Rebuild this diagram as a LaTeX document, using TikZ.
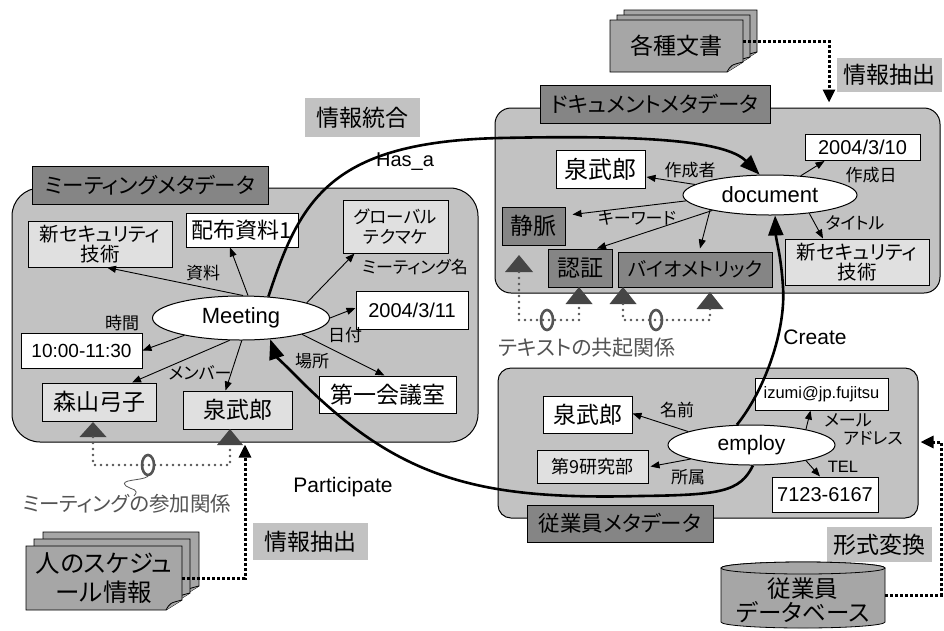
\documentclass[tikz,border=0pt]{standalone}
\usepackage{fontspec}
\setmainfont{Liberation Sans}
\newfontfamily\cjk[RawFeature=+palt]{Noto Sans CJK JP}
\usetikzlibrary{arrows.meta,shapes.geometric,calc}
\definecolor{contfill}{gray}{0.76}
\definecolor{tabfill}{gray}{0.52}
\definecolor{lightfill}{gray}{0.88}
\definecolor{docfill}{gray}{0.65}
\definecolor{markgray}{gray}{0.27}
\definecolor{notegray}{gray}{0.33}
\tikzset{
  cont/.style={draw=black, line width=1pt, fill=contfill},
  jf/.style args={#1/#2}{font={\cjk\fontsize{#1pt}{#2pt}\selectfont}},
  lf/.style={font={\fontsize{#1pt}{#1pt}\selectfont}},
  tabbox/.style={draw=black, line width=0.8pt, fill=tabfill, inner sep=0pt, jf=21.5/25},
  wbox/.style={draw=black, line width=1pt, fill=white, inner sep=0pt, align=center},
  lbox/.style={wbox, fill=lightfill},
  dbox/.style={wbox, fill=tabfill},
  lbl/.style={inner sep=0pt, jf=17/19},
  ell/.style={ellipse, draw=black, line width=1pt, fill=white, inner sep=0pt},
  sarr/.style={-{Triangle[length=9pt,width=7pt]}, line width=0.9pt},
  barr/.style={-{Triangle[length=20pt,width=15pt]}, line width=2.6pt},
  extr/.style={line width=3pt, dash pattern=on 3pt off 2pt, -{Triangle[length=13pt,width=12pt]}},
  note/.style={fill=contfill, inner sep=0pt, jf=23/25},
  cooc/.style={draw=notegray, line width=2.6pt, line cap=round, dash pattern=on 0pt off 6pt},
  ring/.style={ellipse, draw=notegray, line width=2.6pt, minimum width=12pt, minimum height=20pt, inner sep=0pt},
  docpage/.style={draw=black, line width=0.8pt, fill=docfill}
}
\newcommand\docpage[4]{%
  \draw[docpage] (#1,#2) -- (#3,#2) -- (#3,#4-10) -- (#3-16,#4) -- (#1,#4) -- cycle;
  \draw[docpage] (#3-16,#4) .. controls (#3-12,#4-7) .. (#3,#4-10);}
\begin{document}
\begin{tikzpicture}[x=1pt,y=-1pt]
\useasboundingbox[fill=white] (0,0) rectangle (944,630);

% containers
\node[cont, rounded corners=28pt, minimum width=466pt, minimum height=254pt] (mcont) at (245,315) {};
\node[cont, rounded corners=16pt, minimum width=445pt, minimum height=185pt] (dcont) at (717.5,200.5) {};
\node[cont, rounded corners=13pt, minimum width=420pt, minimum height=150pt] (econt) at (708,443) {};

% tabs
\node[tabbox, minimum width=236pt, minimum height=38pt] (mtab) at (150,185) {ミーティングメタデータ};
\node[tabbox, minimum width=230pt, minimum height=38pt] (dtab) at (655,104) {ドキュメントメタデータ};
\node[tabbox, minimum width=186pt, minimum height=37pt] (etab) at (620,523.5) {従業員メタデータ};

% meeting metadata
\node[lbox, jf=19.5/20, minimum width=144pt, minimum height=46pt] (msec) at (100,244) {新セキュリティ\\技術};
\node[wbox, jf=22/24, minimum width=112pt, minimum height=34pt] (mhaifu) at (242,230) {配布資料1};
\node[lbox, jf=17.5/20, minimum width=105pt, minimum height=53pt] (mglob) at (395.5,226.5) {グローバル\\テクマケ};
\node[wbox, lf=20, minimum width=112pt, minimum height=38pt] (mdate) at (412,310) {2004/3/11};
\node[wbox, lf=19, minimum width=121pt, minimum height=35pt] (mtime) at (81.5,350.5) {10:00-11:30};
\node[lbox, jf=23/25, minimum width=114pt, minimum height=38pt] (mmori) at (99,402) {森山弓子};
\node[lbox, jf=23/25, minimum width=109pt, minimum height=38pt] (mizumi) at (237.5,410) {泉武郎};
\node[wbox, jf=23/25, minimum width=137pt, minimum height=37pt] (mroom) at (387.5,394.5) {第一会議室};
\node[ell, lf=22, minimum width=177pt, minimum height=44pt] (meeting) at (241,318) {Meeting};

\node[lbl] (lshiryo) at (203,273) {資料};
\node[lbl] (ljikan) at (122,323) {時間};
\node[lbl] (lmember) at (200,373) {メンバー};
\node[lbl] (lbasho) at (312,361) {場所};
\node[lbl] (lhiduke) at (345,335) {日付};
\node[lbl] (lmname) at (415,267) {ミーティング名};

\draw[sarr] ($(meeting.north)+(2,0)$) -- ($(msec.south)+(7,0)$);
\draw[sarr] ($(meeting.north)+(7,0)$) -- ($(mhaifu.south)+(-12,0)$);
\draw[sarr] (meeting.13) -- ($(mglob.south west)+(12,0)$);
\draw[sarr] (meeting.east) -- ($(mdate.west)+(0,-2)$);
\draw[sarr] (meeting.-15) -- ($(mroom.north)+(-3,0)$);
\draw[sarr] (meeting.-163) -- (mtime.east);
\draw[sarr] (meeting.-117) -- ($(mmori.north)+(33,0)$);
\draw[sarr] (meeting.-88) -- ($(mizumi.north)+(-12,0)$);

% document metadata
\node[wbox, lf=20, minimum width=115pt, minimum height=26pt] (ddate) at (862.5,147.5) {2004/3/10};
\node[wbox, jf=24/26, minimum width=89pt, minimum height=38pt] (dizumi) at (600.5,169) {泉武郎};
\node[dbox, jf=23/25, minimum width=63pt, minimum height=38pt] (dvein) at (533.5,226) {静脈};
\node[dbox, jf=23/25, minimum width=64pt, minimum height=38pt] (dauth) at (580,268) {認証};
\node[dbox, jf=19.5/23, minimum width=154pt, minimum height=35pt] (dbio) at (695,269.5) {バイオメトリック};
\node[lbox, jf=19.5/20, minimum width=144pt, minimum height=46pt] (dsec) at (857,262) {新セキュリティ\\技術};
\node[ell, lf=22, minimum width=174pt, minimum height=40pt] (doc) at (770,195) {document};

\node[lbl] (lsakusei) at (690,170) {作成者};
\node[lbl] (lsakuseibi) at (871,175) {作成日};
\node[lbl] (lkeyword) at (637,218) {キーワード};
\node[lbl] (ltitle) at (855,223) {タイトル};

\draw[sarr] (doc.32) -- ($(ddate.south west)+(20,0)$);
\draw[sarr] (doc.172) -- ($(dizumi.east)+(1,8)$);
\draw[sarr] (doc.184) -- ($(dvein.north east)+(7,8)$);
\draw[sarr] (doc.195) -- ($(dauth.north)+(17,0)$);
\draw[sarr] (doc.-166) -- ($(dbio.north)+(5,-3)$);
\draw[sarr] (doc.-25) -- ($(dsec.north)+(-34,0)$);

% employee metadata
\node[wbox, lf=16.5, minimum width=133pt, minimum height=32pt] (email) at (821.5,394) {izumi@jp.fujitsu};
\node[wbox, jf=23/25, minimum width=89pt, minimum height=37pt] (eizumi) at (587.5,414.5) {泉武郎};
\node[lbox, jf=18/20, minimum width=111pt, minimum height=33pt] (edept) at (592.5,466.5) {第9研究部};
\node[wbox, lf=20, minimum width=106pt, minimum height=35pt] (etel) at (825,494.5) {7123-6167};
\node[ell, lf=21, minimum width=167pt, minimum height=40pt] (employ) at (751.5,445) {employ};

\node[lbl] (lnamae) at (677,410) {名前};
\node[lbl] (lshozoku) at (688,477) {所属};
\node[inner sep=0pt, lf=16.5] (ltel) at (843,467) {TEL};
\node[lbl] (lmail1) at (848,420) {メール};
\node[lbl] (lmail2) at (873,438) {アドレス};

\draw[sarr] (employ.16) -- ($(email.south)+(-11,0)$);
\draw[sarr] (employ.168) -- ($(eizumi.east)+(0,-1)$);
\draw[sarr] (employ.-167) -- ($(edept.east)+(2,0)$);
\draw[sarr] (employ.-16) -- ($(etel.north)+(-5,0)$);

% notes
\node[note, minimum width=115pt, minimum height=39pt] (ntougou) at (362.5,117.5) {情報統合};
\node[note, minimum width=105pt, minimum height=34pt] (nchushutsu1) at (889.5,75) {情報抽出};
\node[note, minimum width=115pt, minimum height=37pt] (nchushutsu2) at (310.5,541.5) {情報抽出};
\node[note, minimum width=105pt, minimum height=35pt] (nhenkan) at (879.5,544.5) {形式変換};

% document stacks
\docpage{624}{10}{757}{62}
\docpage{617}{15}{750}{67}
\docpage{610}{20}{743}{72}
\node[jf=23/25, minimum width=133pt, minimum height=52pt, inner sep=0pt] (docs) at (676.5,46) {各種文書};

\docpage{43}{532}{199}{596}
\docpage{34}{539}{190}{603}
\docpage{26}{546}{182}{610}
\node[jf=24.5/29, align=center, minimum width=156pt, minimum height=64pt, inner sep=0pt] (sched) at (104,578) {人のスケジュ\\ール情報};

% database cylinder
\draw[docpage] (721,568) -- (721,622) arc[start angle=180, end angle=360, x radius=82pt, y radius=6pt]
  -- (885,568) arc[start angle=0, end angle=180, x radius=82pt, y radius=6pt] -- cycle;
\draw[docpage] (803,568) ellipse [x radius=82pt, y radius=6pt];
\node[jf=23.5/24, align=center, minimum width=164pt, minimum height=60pt, inner sep=0pt] (db) at (803,600) {従業員\\データベース};

% extraction arrows
\draw[extr] ($(docs.east)+(0,-5)$) -| ($(dcont.north)+(111.5,-5)$);
\draw[extr] (sched.east) -| ($(mcont.south)+(0,2)$);
\draw[extr] ($(db.east)+(0,-5)$) -- ++(56,0) |- ($(econt.east)+(2,-1)$);

% co-occurrence (meeting)
\coordinate (ma) at (93,437);
\coordinate (mb) at (230,445);
\fill[markgray] (ma) ++(-13.5,0) -- ++(27,0) -- ++(-13.5,-15) -- cycle;
\fill[markgray] (mb) ++(-13,0) -- ++(26,0) -- ++(-13,-16) -- cycle;
\node[ring] (r1) at (148,465) {};
\draw[cooc] (ma) -- (ma |- r1) -- (r1 -| mb) -- (mb);
\draw[notegray, line width=0.8pt] (r1.south) .. controls (142,481) and (118,479) .. (126,486) .. controls (132,490) and (140,489) .. (134,496);
\node[jf=20.5/21, text=notegray, inner sep=0pt] (lsanka) at (127,504) {ミーティングの参加関係};

% co-occurrence (text)
\coordinate (ta) at (519,272);
\coordinate (tb) at (579,304);
\coordinate (tc) at (623,304);
\coordinate (td) at (710,309);
\fill[markgray] (ta) ++(-14,0) -- ++(28,0) -- ++(-14,-17) -- cycle;
\fill[markgray] (tb) ++(-13.5,0) -- ++(27,0) -- ++(-13.5,-17) -- cycle;
\fill[markgray] (tc) ++(-13.5,0) -- ++(27,0) -- ++(-13.5,-17) -- cycle;
\fill[markgray] (td) ++(-13.5,0) -- ++(27,0) -- ++(-13.5,-17) -- cycle;
\node[ring] (r2) at (547,320) {};
\node[ring] (r3) at (656,320) {};
\draw[cooc] (ta) -- (ta |- r2) -- (r2 -| tb) -- (tb);
\draw[cooc] (tc) -- (tc |- r3) -- (r3 -| td) -- (td);
\node[jf=21/21, text=notegray, inner sep=0pt] (lkyoki) at (587,348) {テキストの共起関係};

% relation curves
\draw[barr] (meeting.38) .. controls (300,200) and (330,142) .. (500,138) .. controls (640,135) and (725,140) .. (doc.117);
\node[lf=20, inner sep=0pt] (lhasa) at (405,162) {Has\_a};
\draw[barr] (employ.126) .. controls (765,390) and (786,330) .. (783,287) .. controls (781,255) and (776,240) .. (doc.-76);
\node[lf=21, inner sep=0pt] (lcreate) at (815,337) {Create};
\draw[barr] (employ.-86) .. controls (740,492) and (720,495) .. (640,496) .. controls (480,500) and (400,480) .. (300,380) .. controls (288,368) and (276,356) .. (meeting.-36);
\node[lf=21, inner sep=0pt] (lpart) at (343,487) {Participate};
\end{tikzpicture}
\end{document}
